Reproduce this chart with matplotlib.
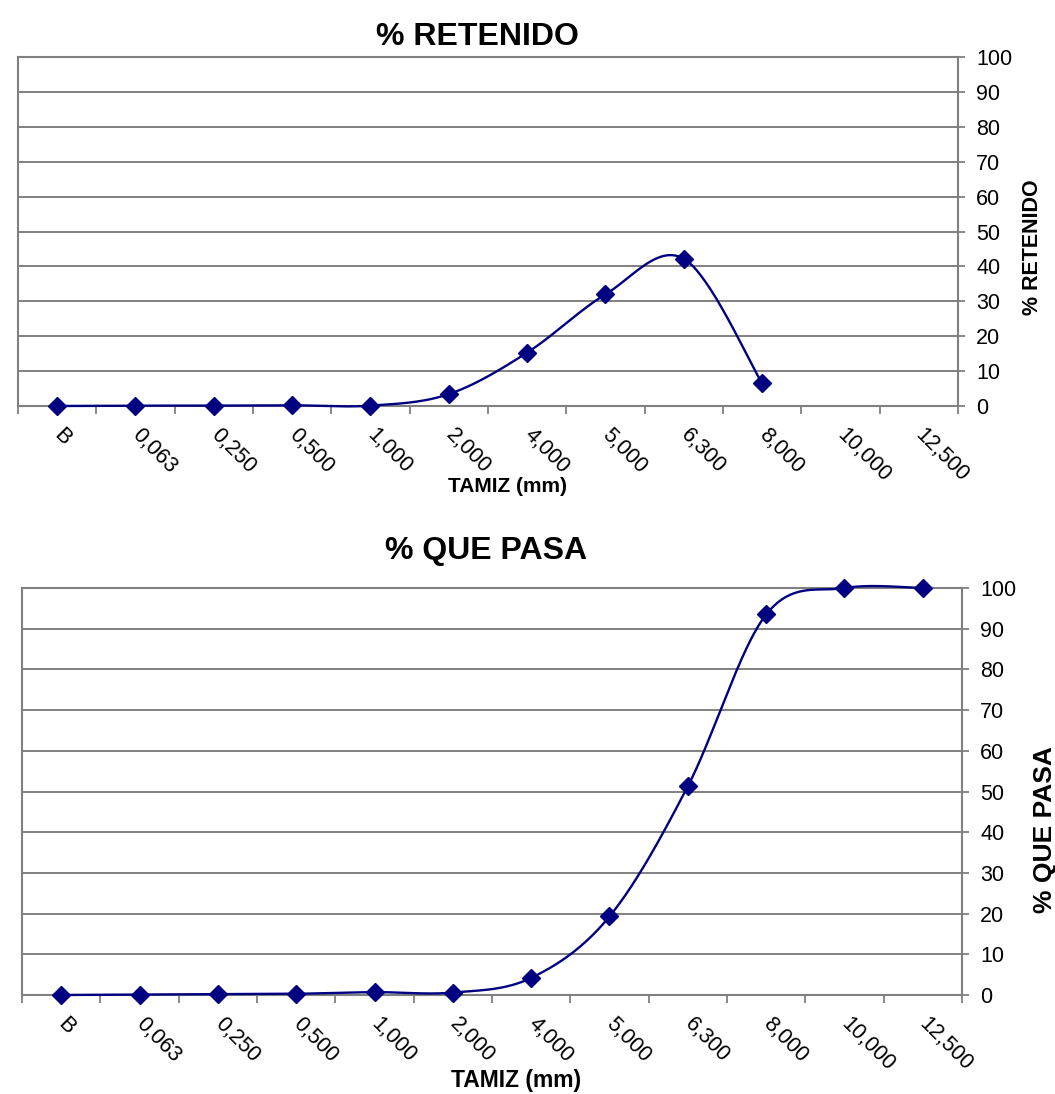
import numpy as np
import matplotlib
matplotlib.use("Agg")
import matplotlib.pyplot as plt

plt.rcParams['font.family'] = ['Liberation Sans', 'DejaVu Sans']

tamiz = ["B", "0,063", "0,250", "0,500", "1,000", "2,000", "4,000",
         "5,000", "6,300", "8,000", "10,000", "12,500"]
retenido = [0.0, 0.1, 0.1, 0.2, 0.1, 3.4, 15.3, 32.0, 42.2, 6.5, np.nan, np.nan]
que_pasa = [0.0, 0.1, 0.2, 0.3, 0.7, 0.6, 4.2, 19.3, 51.3, 93.5, 100.0, 100.0]
yticks = list(range(0, 101, 10))

NAVY = '#000080'
GRAY = '#808080'


def smooth(x, y, n=40):
    """Excel-style smoothed line (Catmull-Rom Bezier)."""
    x = np.asarray(x, float)
    y = np.asarray(y, float)
    m = ~np.isnan(y)
    x, y = x[m], y[m]
    P = np.column_stack([x, y])
    Pe = np.vstack([P[0], P, P[-1]])
    out = []
    t = np.linspace(0, 1, n)[:, None]
    for i in range(len(P) - 1):
        p0 = Pe[i + 1]
        p3 = Pe[i + 2]
        c1 = p0 + (Pe[i + 2] - Pe[i]) / 6.0
        c2 = p3 - (Pe[i + 3] - Pe[i + 1]) / 6.0
        seg = ((1 - t) ** 3) * p0 + 3 * ((1 - t) ** 2) * t * c1 + 3 * (1 - t) * t ** 2 * c2 + t ** 3 * p3
        out.append(seg)
    S = np.vstack(out)
    return S[:, 0], S[:, 1]


fig = plt.figure(figsize=(10.55, 10.94), dpi=100)

W = 1055.0
H = 1094.0


def make_axes(l, r, t, b):
    return fig.add_axes([l / W, 1 - b / H, (r - l) / W, (b - t) / H])


def style(ax, values, tick_fs=15.5):
    x = np.arange(len(tamiz))
    sx, sy = smooth(x, values)
    ax.plot(sx, sy, color=NAVY, lw=1.7, zorder=3, clip_on=False)
    ax.plot(x, values, linestyle='none', marker='D', ms=9.5, color=NAVY, zorder=4, clip_on=False)
    ax.set_xlim(-0.5, len(tamiz) - 0.5)
    ax.set_ylim(0, 100)
    ax.set_yticks(yticks)
    ax.yaxis.tick_right()
    ax.yaxis.set_label_position('right')
    ax.tick_params(axis='y', which='major', direction='out', length=5, width=1.3,
                   color=GRAY, labelsize=tick_fs, pad=8, labelcolor='black')
    ax.grid(axis='y', color=GRAY, lw=1.4, zorder=1)
    ax.set_axisbelow(True)
    ax.set_xticks(x)
    ax.set_xticklabels(tamiz, rotation=-45, ha='left', va='center',
                       rotation_mode='anchor', fontsize=tick_fs)
    ax.set_xticks(np.arange(-0.5, len(tamiz)), minor=True)
    ax.tick_params(axis='x', which='major', length=0, pad=19)
    ax.tick_params(axis='x', which='minor', direction='out', length=6, width=1.3, color=GRAY)
    for s in ax.spines.values():
        s.set_color(GRAY)
        s.set_linewidth(1.5)


ax1 = make_axes(18, 958, 57, 406)
style(ax1, retenido)
fig.text(477 / W, 1 - 37 / H, "% RETENIDO", ha='center', va='center',
         fontsize=23, fontweight='bold')
fig.text(1033 / W, 1 - 247 / H, "% RETENIDO", ha='center', va='center',
         rotation=90, fontsize=15.5, fontweight='bold')
fig.text(507 / W, 1 - 487 / H, "TAMIZ (mm)", ha='center', va='center',
         fontsize=15, fontweight='bold')

ax2 = make_axes(22, 962, 588, 995)
style(ax2, que_pasa)
fig.text(486 / W, 1 - 551 / H, "% QUE PASA", ha='center', va='center',
         fontsize=23, fontweight='bold')
fig.text(1045 / W, 1 - 830 / H, "% QUE PASA", ha='center', va='center',
         rotation=90, fontsize=19, fontweight='bold')
fig.text(516 / W, 1 - 1081 / H, "TAMIZ (mm)", ha='center', va='center',
         fontsize=16.5, fontweight='bold')

fig.savefig("out.png", dpi=100, facecolor='white')
